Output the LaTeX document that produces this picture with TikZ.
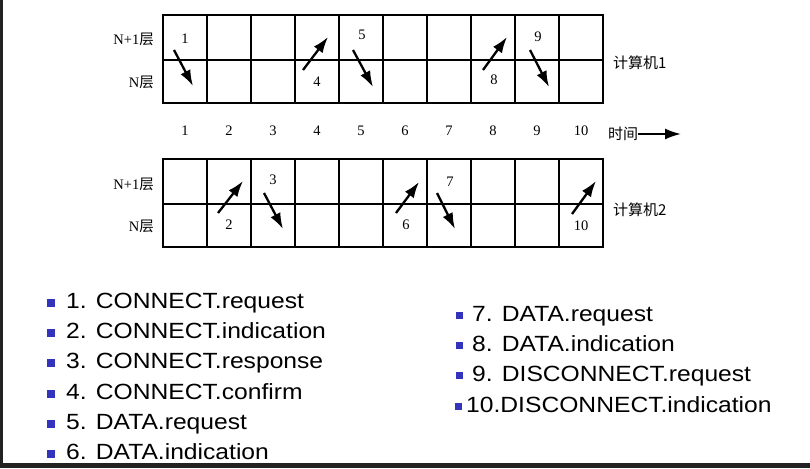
\documentclass[tikz,border=0pt]{standalone}
\usepackage{fontspec}
\setmainfont{Liberation Serif}
\newfontfamily\legendfont[FakeStretch=1.12]{Liberation Sans}
\newfontfamily\cjkfont{Noto Sans CJK SC}
\usetikzlibrary{arrows.meta}
\definecolor{bulletblue}{RGB}{51,51,187}
\definecolor{frame}{RGB}{34,34,34}
\begin{document}
\begin{tikzpicture}[x=1pt,y=-1pt,
		gridline/.style={line width=1.4pt, black},
		sig/.style={line width=2.3pt, black, -{Latex[length=16pt,width=11pt]}},
		lbl/.style={inner sep=0pt, font=\fontsize{14.5}{14.5}\selectfont},
		item/.style={inner sep=0pt, anchor=base west, font=\legendfont\fontsize{22}{22}\selectfont},
		bullet/.style={fill=bulletblue}]
		\useasboundingbox (0,0) rectangle (810,468);
		\fill [white] (0,0) rectangle (810,468);
		\fill [frame] (0,0) rectangle (3,468);
		\fill [frame] (0,463) rectangle (810,468);
		% computer 1
		\draw [gridline] (163,15) rectangle (603,103);
		\draw [gridline] (163,60)--(603,60);
		\foreach \i in {1,...,9} \draw [gridline] (163+44*\i,15)--(163+44*\i,103);
		% computer 2
		\draw [gridline] (163,159) rectangle (603,247);
		\draw [gridline] (163,204)--(603,204);
		\foreach \i in {1,...,9} \draw [gridline] (163+44*\i,159)--(163+44*\i,247);
		\node [lbl, anchor=east] (upA) at (154,39) {N+1{\cjkfont 层}};
		\node [lbl, anchor=east] (lowA) at (154,82) {N{\cjkfont 层}};
		\node [lbl, anchor=east] (upB) at (154,184) {N+1{\cjkfont 层}};
		\node [lbl, anchor=east] (lowB) at (154,226) {N{\cjkfont 层}};
		\node [lbl, anchor=west, font=\cjkfont\fontsize{15}{15}\selectfont] (pcA) at (613,63) {计算机1};
		\node [lbl, anchor=west, font=\cjkfont\fontsize{15}{15}\selectfont] (pcB) at (613,210) {计算机2};
		% time axis
		\foreach \i in {1,...,10} \node [lbl] (t\i) at (141+44*\i,131) {\i};
		\node [lbl, anchor=west, font=\cjkfont\fontsize{15}{15}\selectfont] (time) at (608,134) {时间};
		\coordinate (timeend) at (681,134);
		\draw [line width=2pt, -{Latex[length=16pt,width=11pt]}] (time.east)--(timeend);
		% primitives
		\draw [sig] (174,50)--(193,86);
		\node [lbl] (p1) at (185,39) {1};
		\draw [sig] (303,70)--(328,37);
		\node [lbl] (p4) at (317,82) {4};
		\draw [sig] (353,50)--(373,87);
		\node [lbl] (p5) at (362,35) {5};
		\draw [sig] (483,70)--(507,37);
		\node [lbl] (p8) at (494,80) {8};
		\draw [sig] (530,50)--(549,87);
		\node [lbl] (p9) at (538,37) {9};
		\draw [sig] (218,213)--(243,181);
		\node [lbl] (p2) at (229,225) {2};
		\draw [sig] (264,193)--(283,229);
		\node [lbl] (p3) at (273,180) {3};
		\draw [sig] (396,213)--(419,182);
		\node [lbl] (p6) at (406,225) {6};
		\draw [sig] (437,193)--(455,229);
		\node [lbl] (p7) at (450,182) {7};
		\draw [sig] (572,214)--(596,181);
		\node [lbl] (p10) at (581,226) {10};
		% legend
		\foreach \y/\txt [count=\k] in {308/1. CONNECT.request, 338/2. CONNECT.indication, 368/3. CONNECT.response, 399/4. CONNECT.confirm, 429/5. DATA.request, 459/6. DATA.indication} {
			\fill [bullet] (47,\y-9) rectangle (55,\y-1);
			\node [item] (itemL\k) at (66,\y) {\txt};
		}
		\foreach \y/\txt [count=\k] in {321/7. DATA.request, 351/8. DATA.indication, 381/9. DISCONNECT.request} {
			\fill [bullet] (456,\y-9) rectangle (463,\y-2);
			\node [item] (itemR\k) at (472,\y) {\txt};
		}
		\fill [bullet] (455,403) rectangle (462,410);
		\node [item] (itemR4) at (466,412) {10.DISCONNECT.indication};
	  \end{tikzpicture}
\end{document}
